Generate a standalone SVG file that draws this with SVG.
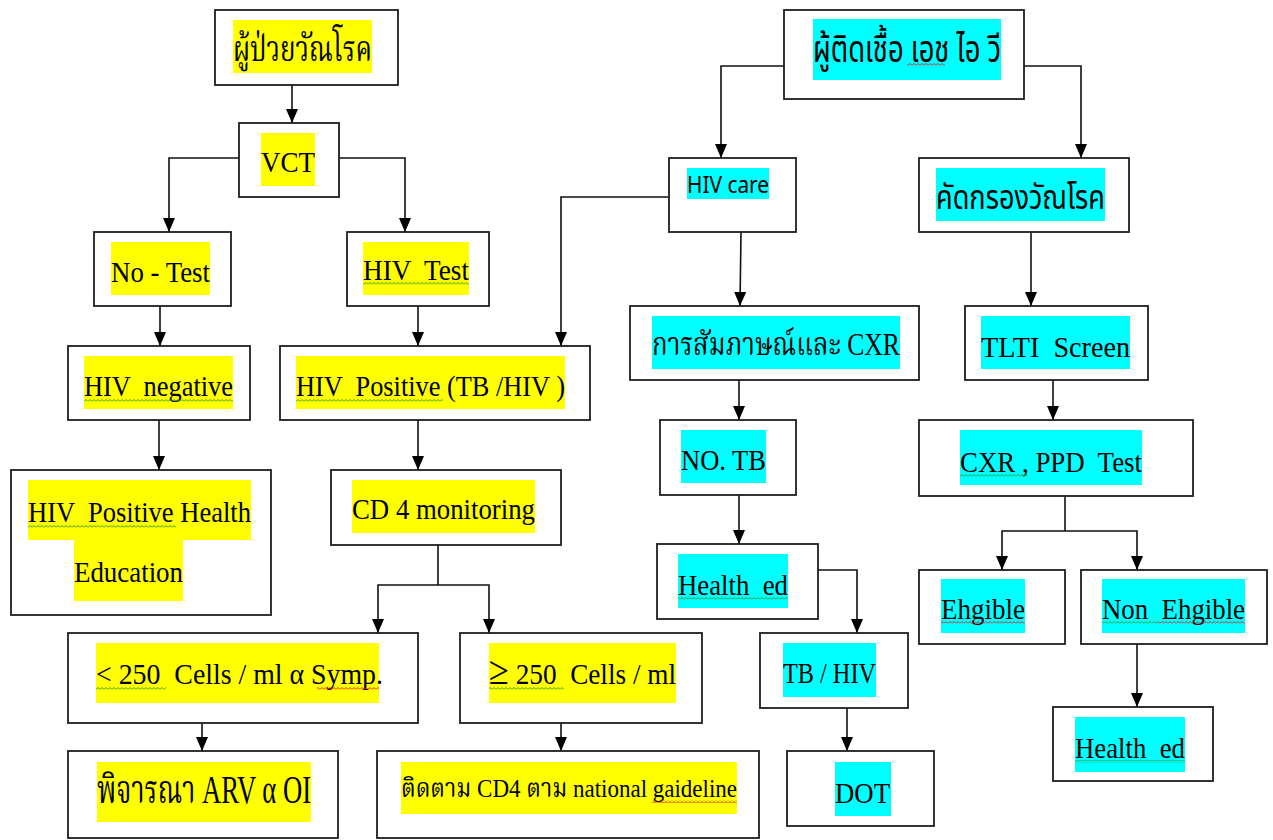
<svg xmlns="http://www.w3.org/2000/svg" width="1273" height="840" viewBox="0 0 1273 840">
  <style>
    .box { fill: #ffffff; stroke: #1e1e1e; stroke-width: 1.8; }
    .hy { fill: #ffff00; }
    .hc { fill: #00ffff; }
    .t { font-family: "Liberation Serif", "Noto Serif Thai", "Noto Sans Thai", serif; font-size: 30px; fill: #000000; }
    .ts { font-family: "Noto Sans", "Open Sans", "Noto Sans Thai", sans-serif; font-size: 30px; fill: #000000; }
    .conn { fill: none; stroke: #111111; stroke-width: 1.6; }
    .conn.arr { marker-end: url(#arrow); }
    .sqg { fill: url(#sq-green); }
    .sqr { fill: url(#sq-red); }
  </style>
  <defs>
    <marker id="arrow" markerUnits="userSpaceOnUse" markerWidth="14" markerHeight="12" viewBox="0 0 14 12" refX="14" refY="6" orient="auto">
      <path d="M0,0 L14,6 L0,12 Z" fill="#000000"/>
    </marker>
    <pattern id="sq-green" patternUnits="userSpaceOnUse" width="4" height="3">
      <polyline points="0,2.5 2,0.5 4,2.5" fill="none" stroke="#2f9a2f" stroke-width="1"/>
    </pattern>
    <pattern id="sq-red" patternUnits="userSpaceOnUse" width="4" height="3">
      <polyline points="0,2.5 2,0.5 4,2.5" fill="none" stroke="#e02020" stroke-width="1"/>
    </pattern>
  </defs>

  <rect width="1273" height="840" fill="#ffffff"/>

  <!-- connectors -->
  <g id="connectors">
    <path class="conn arr" d="M292,85 V123"/>
    <path class="conn arr" d="M239,158 H169 V232"/>
    <path class="conn arr" d="M339,158 H405 V232"/>
    <path class="conn arr" d="M160,306 V346"/>
    <path class="conn arr" d="M418,306 V346"/>
    <path class="conn arr" d="M669,197 H561 V346"/>
    <path class="conn arr" d="M159,420 V470"/>
    <path class="conn arr" d="M418,420 V470"/>
    <path class="conn" d="M438,545 V585"/>
    <path class="conn arr" d="M438,585 H378 V633"/>
    <path class="conn arr" d="M438,585 H489 V633"/>
    <path class="conn arr" d="M202,723 V751"/>
    <path class="conn arr" d="M561,723 V751"/>
    <path class="conn arr" d="M784,66 H721 V158"/>
    <path class="conn arr" d="M1024,66 H1081 V158"/>
    <path class="conn arr" d="M741,232 L740,306"/>
    <path class="conn arr" d="M1031,232 V306"/>
    <path class="conn arr" d="M739,380 V420"/>
    <path class="conn arr" d="M1053,380 V420"/>
    <path class="conn arr" d="M739,495 V544"/>
    <path class="conn arr" d="M818,570 H857 V633"/>
    <path class="conn arr" d="M847,708 V751"/>
    <path class="conn" d="M1065,496 V531"/>
    <path class="conn arr" d="M1065,531 H1002 V570"/>
    <path class="conn arr" d="M1065,531 H1137 V570"/>
    <path class="conn arr" d="M1137,644 V707"/>
  </g>

  <!-- left branch: TB patients -->
  <g id="tb-patient">
    <rect class="box" x="215" y="10" width="183" height="75"/>
    <rect class="hy" x="233" y="20" width="139" height="53"/>
    <text class="t" x="233" y="61" style="font-size:36px" textLength="139" lengthAdjust="spacingAndGlyphs">ผู้ป่วยวัณโรค</text>
  </g>

  <g id="vct">
    <rect class="box" x="239" y="123" width="100" height="74"/>
    <rect class="hy" x="261" y="133" width="54" height="53"/>
    <text class="t" x="261" y="172" textLength="54" lengthAdjust="spacingAndGlyphs">VCT</text>
  </g>

  <g id="no-test">
    <rect class="box" x="94" y="232" width="137" height="74"/>
    <rect class="hy" x="111" y="242" width="99" height="53"/>
    <text class="t" x="111" y="282" textLength="99" lengthAdjust="spacingAndGlyphs" xml:space="preserve">No - Test</text>
  </g>

  <g id="hiv-test">
    <rect class="box" x="347" y="232" width="142" height="74"/>
    <rect class="hy" x="363" y="242" width="106" height="53"/>
    <text class="t" x="363" y="280" textLength="106" lengthAdjust="spacingAndGlyphs" xml:space="preserve">HIV  Test</text>
    <rect class="sqg" x="363" y="282" width="106" height="3"/>
  </g>

  <g id="hiv-negative">
    <rect class="box" x="68" y="346" width="182" height="74"/>
    <rect class="hy" x="84" y="356" width="149" height="53"/>
    <text class="t" x="84" y="396" textLength="149" lengthAdjust="spacingAndGlyphs" xml:space="preserve">HIV  negative</text>
    <rect class="sqg" x="84" y="399" width="149" height="3"/>
  </g>

  <g id="hiv-positive">
    <rect class="box" x="280" y="346" width="310" height="74"/>
    <rect class="hy" x="296" y="356" width="269" height="53"/>
    <text class="t" x="296" y="396" textLength="269" lengthAdjust="spacingAndGlyphs" xml:space="preserve">HIV  Positive (TB /HIV )</text>
    <rect class="sqg" x="296" y="399" width="147" height="3"/>
  </g>

  <g id="health-education">
    <rect class="box" x="11" y="470" width="260" height="145"/>
    <rect class="hy" x="28" y="480" width="223" height="60"/>
    <rect class="hy" x="74" y="540" width="109" height="61"/>
    <text class="t" x="28" y="522" textLength="223" lengthAdjust="spacingAndGlyphs" xml:space="preserve">HIV  Positive Health</text>
    <rect class="sqg" x="28" y="525" width="148" height="3"/>
    <text class="t" x="74" y="582" textLength="109" lengthAdjust="spacingAndGlyphs">Education</text>
  </g>

  <g id="cd4-monitoring">
    <rect class="box" x="331" y="470" width="230" height="75"/>
    <rect class="hy" x="352" y="480" width="183" height="53"/>
    <text class="t" x="352" y="519" textLength="183" lengthAdjust="spacingAndGlyphs">CD 4 monitoring</text>
  </g>

  <g id="cd4-low">
    <rect class="box" x="68" y="633" width="350" height="90"/>
    <rect class="hy" x="96" y="643" width="283" height="60"/>
    <text class="t" x="96" y="684" textLength="287" lengthAdjust="spacingAndGlyphs" xml:space="preserve">&lt; 250  Cells / ml α Symp.</text>
    <rect class="sqg" x="96" y="687" width="70" height="3"/>
    <rect class="sqr" x="317" y="687" width="62" height="3"/>
  </g>

  <g id="cd4-high">
    <rect class="box" x="460" y="633" width="242" height="90"/>
    <rect class="hy" x="489" y="643" width="187" height="60"/>
    <text class="t" x="489" y="684" textLength="187" lengthAdjust="spacingAndGlyphs" xml:space="preserve"><tspan style="font-size:40px">≥</tspan> 250  Cells / ml</text>
    <rect class="sqg" x="489" y="687" width="75" height="3"/>
  </g>

  <g id="consider-arv">
    <rect class="box" x="68" y="751" width="270" height="87"/>
    <rect class="hy" x="97" y="762" width="214" height="60"/>
    <text class="t" x="97" y="803" style="font-size:40px" textLength="214" lengthAdjust="spacingAndGlyphs">พิจารณา ARV α OI</text>
  </g>

  <g id="follow-cd4">
    <rect class="box" x="377" y="751" width="382" height="87"/>
    <rect class="hy" x="401" y="762" width="336" height="52"/>
    <text class="t" x="401" y="797" style="font-size:26px" textLength="336" lengthAdjust="spacingAndGlyphs">ติดตาม CD4 ตาม national gaideline</text>
    <rect class="sqr" x="652" y="800" width="85" height="3"/>
  </g>

  <!-- right branch: people living with HIV -->
  <g id="hiv-infected">
    <rect class="box" x="784" y="10" width="240" height="89"/>
    <rect class="hc" x="813" y="19" width="188" height="61"/>
    <text class="ts" x="813" y="62" style="font-size:37px" textLength="188" lengthAdjust="spacingAndGlyphs">ผู้ติดเชื้อ เอช ไอ วี</text>
    <rect class="sqr" x="907" y="63" width="38" height="3"/>
  </g>

  <g id="hiv-care">
    <rect class="box" x="669" y="158" width="127" height="74"/>
    <rect class="hc" x="687" y="168" width="82" height="31"/>
    <text class="ts" x="687" y="193" style="font-size:24px" textLength="82" lengthAdjust="spacingAndGlyphs">HIV care</text>
  </g>

  <g id="tb-screening">
    <rect class="box" x="919" y="158" width="210" height="74"/>
    <rect class="hc" x="936" y="168" width="169" height="53"/>
    <text class="ts" x="936" y="209" style="font-size:34px" textLength="169" lengthAdjust="spacingAndGlyphs">คัดกรองวัณโรค</text>
  </g>

  <g id="interview-cxr">
    <rect class="box" x="630" y="306" width="289" height="74"/>
    <rect class="hc" x="652" y="316" width="248" height="53"/>
    <text class="t" x="652" y="355" style="font-size:32px" textLength="248" lengthAdjust="spacingAndGlyphs">การสัมภาษณ์และ CXR</text>
  </g>

  <g id="tlti-screen">
    <rect class="box" x="965" y="306" width="183" height="74"/>
    <rect class="hc" x="981" y="316" width="149" height="53"/>
    <text class="t" x="981" y="357" textLength="149" lengthAdjust="spacingAndGlyphs" xml:space="preserve">TLTI  Screen</text>
  </g>

  <g id="no-tb">
    <rect class="box" x="660" y="420" width="136" height="75"/>
    <rect class="hc" x="681" y="430" width="85" height="53"/>
    <text class="t" x="681" y="470" textLength="85" lengthAdjust="spacingAndGlyphs">NO. TB</text>
  </g>

  <g id="cxr-ppd">
    <rect class="box" x="919" y="420" width="274" height="76"/>
    <rect class="hc" x="960" y="430" width="182" height="55"/>
    <text class="t" x="960" y="472" textLength="182" lengthAdjust="spacingAndGlyphs" xml:space="preserve">CXR , PPD  Test</text>
    <rect class="sqg" x="960" y="474" width="68" height="3"/>
  </g>

  <g id="health-ed-1">
    <rect class="box" x="657" y="544" width="161" height="75"/>
    <rect class="hc" x="678" y="554" width="110" height="54"/>
    <text class="t" x="678" y="595" textLength="110" lengthAdjust="spacingAndGlyphs" xml:space="preserve">Health  ed</text>
    <rect class="sqg" x="678" y="597" width="110" height="3"/>
  </g>

  <g id="tb-hiv">
    <rect class="box" x="760" y="633" width="148" height="75"/>
    <rect class="hc" x="783" y="643" width="93" height="54"/>
    <text class="t" x="783" y="683" textLength="93" lengthAdjust="spacingAndGlyphs">TB / HIV</text>
  </g>

  <g id="dot">
    <rect class="box" x="787" y="751" width="147" height="75"/>
    <rect class="hc" x="835" y="762" width="56" height="54"/>
    <text class="t" x="835" y="803" textLength="55" lengthAdjust="spacingAndGlyphs">DOT</text>
  </g>

  <g id="eligible">
    <rect class="box" x="919" y="570" width="146" height="74"/>
    <rect class="hc" x="941" y="579" width="84" height="54"/>
    <text class="t" x="941" y="619" textLength="84" lengthAdjust="spacingAndGlyphs">Ehgible</text>
    <rect class="sqr" x="941" y="621" width="84" height="3"/>
  </g>

  <g id="non-eligible">
    <rect class="box" x="1081" y="570" width="186" height="74"/>
    <rect class="hc" x="1102" y="579" width="143" height="54"/>
    <text class="t" x="1102" y="619" textLength="143" lengthAdjust="spacingAndGlyphs" xml:space="preserve">Non  Ehgible</text>
    <rect class="sqg" x="1102" y="621" width="55" height="3"/>
    <rect class="sqr" x="1157" y="621" width="88" height="3"/>
  </g>

  <g id="health-ed-2">
    <rect class="box" x="1053" y="707" width="160" height="74"/>
    <rect class="hc" x="1075" y="717" width="110" height="55"/>
    <text class="t" x="1075" y="758" textLength="110" lengthAdjust="spacingAndGlyphs" xml:space="preserve">Health  ed</text>
    <rect class="sqg" x="1075" y="760" width="110" height="3"/>
  </g>
</svg>
